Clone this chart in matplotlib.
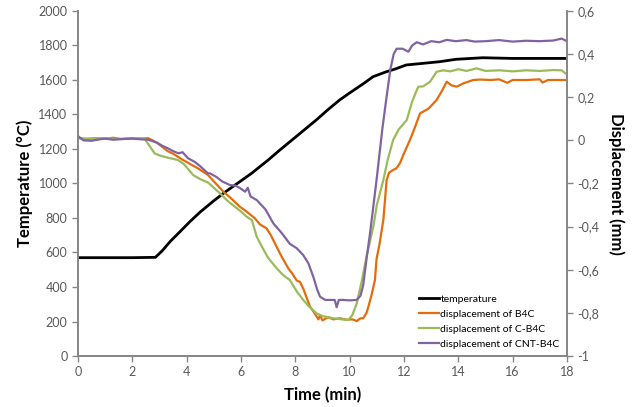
import matplotlib
matplotlib.use('Agg')
import matplotlib.pyplot as plt

plt.rcParams['font.family'] = ['Lato', 'DejaVu Sans']

# temperature (left axis, degC)
t_temp = [0, 1, 2, 2.85, 3.1, 3.4, 3.75, 4.12, 4.5, 5.0, 5.35, 5.96, 6.39, 7.0,
          7.43, 8.0, 8.77, 9.2, 9.63, 10.0, 10.5, 10.86, 11.3, 11.7, 12.08,
          12.6, 13.31, 13.92, 14.9, 16, 17, 18]
temp = [570, 570, 570, 572, 610, 665, 720, 779, 835, 900, 943, 1011, 1059, 1136,
        1194, 1268, 1368, 1428, 1484, 1525, 1578, 1619, 1645, 1665, 1687,
        1695, 1706, 1720, 1729, 1725, 1725, 1725]

# displacement of B4C (right axis, mm)
t_b4c = [0, 0.3, 0.6, 1.0, 1.3, 1.6, 2.0, 2.3, 2.58, 2.75, 2.94, 3.1, 3.3, 3.5,
         3.68, 3.85, 4.0, 4.2, 4.42, 4.6, 4.78, 5.0, 5.35, 5.6, 5.96, 6.2, 6.5,
         6.7, 6.94, 7.1, 7.31, 7.5, 7.74, 7.9, 8.05, 8.17, 8.3, 8.54, 8.7, 8.85,
         8.91, 9.0, 9.2, 9.4, 9.64, 9.9, 10.1, 10.26, 10.4, 10.5, 10.62, 10.69,
         10.8, 10.93, 10.99, 11.1, 11.24, 11.36, 11.45, 11.6, 11.72, 11.85, 12.0,
         12.22, 12.4, 12.59, 12.9, 13.2, 13.4, 13.57, 13.75, 13.94, 14.2, 14.55,
         14.8, 15.2, 15.5, 15.8, 16.0, 16.5, 17.0, 17.1, 17.3, 18.0]
d_b4c = [0.012, 0.005, 0.01, 0.008, 0.012, 0.006, 0.01, 0.008, 0.01, 0.0, -0.014,
         -0.03, -0.05, -0.062, -0.076, -0.09, -0.1, -0.115, -0.13, -0.145, -0.16,
         -0.19, -0.238, -0.265, -0.308, -0.33, -0.36, -0.39, -0.408, -0.44,
         -0.493, -0.54, -0.593, -0.62, -0.65, -0.656, -0.69, -0.771, -0.8, -0.83,
         -0.81, -0.835, -0.82, -0.83, -0.825, -0.832, -0.83, -0.838, -0.825,
         -0.825, -0.8, -0.771, -0.72, -0.648, -0.55, -0.48, -0.369, -0.184, -0.15,
         -0.137, -0.13, -0.106, -0.06, 0.002, 0.06, 0.125, 0.147, 0.187, 0.23,
         0.272, 0.255, 0.249, 0.265, 0.28, 0.282, 0.28, 0.283, 0.267, 0.28, 0.28,
         0.283, 0.268, 0.28, 0.28]

# displacement of C-B4C
t_cb4c = [0, 0.5, 1.0, 1.5, 2.0, 2.45, 2.6, 2.82, 3.0, 3.3, 3.68, 3.9, 4.24, 4.5,
          4.78, 5.0, 5.23, 5.5, 5.8, 6.0, 6.21, 6.4, 6.58, 6.8, 7.0, 7.31, 7.55,
          7.8, 8.05, 8.29, 8.5, 8.78, 9.0, 9.2, 9.4, 9.7, 9.95, 10.1, 10.26,
          10.45, 10.62, 10.87, 11.0, 11.24, 11.4, 11.6, 11.8, 12.1, 12.3, 12.47,
          12.53, 12.7, 12.96, 13.2, 13.45, 13.7, 14.0, 14.3, 14.67, 15.0, 15.5,
          16.0, 16.5, 17.0, 17.5, 17.8, 18.0]
d_cb4c = [0.01, 0.008, 0.01, 0.006, 0.01, 0.008, -0.02, -0.06, -0.07, -0.08,
          -0.091, -0.11, -0.161, -0.18, -0.195, -0.22, -0.246, -0.28, -0.31,
          -0.33, -0.354, -0.37, -0.447, -0.5, -0.545, -0.593, -0.625, -0.648,
          -0.7, -0.74, -0.77, -0.802, -0.815, -0.82, -0.825, -0.83, -0.833, -0.81,
          -0.756, -0.65, -0.54, -0.4, -0.3, -0.184, -0.09, 0.002, 0.05, 0.094,
          0.18, 0.233, 0.249, 0.25, 0.272, 0.318, 0.325, 0.32, 0.33, 0.322, 0.334,
          0.322, 0.325, 0.32, 0.325, 0.322, 0.326, 0.325, 0.305]

# displacement of CNT-B4C
t_cnt = [0, 0.2, 0.5, 0.8, 1.0, 1.3, 1.6, 2.0, 2.3, 2.58, 2.9, 3.1, 3.31, 3.5,
         3.7, 3.85, 4.05, 4.3, 4.5, 4.78, 4.86, 5.1, 5.3, 5.59, 5.8, 5.95, 6.15,
         6.25, 6.35, 6.58, 6.9, 7.19, 7.5, 7.8, 8.05, 8.29, 8.48, 8.66, 8.8, 8.91,
         9.1, 9.27, 9.45, 9.52, 9.6, 9.76, 10.0, 10.26, 10.4, 10.5, 10.62, 10.75,
         10.99, 11.2, 11.36, 11.5, 11.62, 11.73, 11.95, 12.16, 12.3, 12.47, 12.7,
         13.0, 13.3, 13.57, 13.9, 14.3, 14.6, 15.0, 15.5, 16.0, 16.5, 17.0, 17.5,
         17.8, 18.0]
d_cnt = [0.02, 0.0, -0.002, 0.005, 0.008, 0.003, 0.006, 0.008, 0.005, 0.003,
         -0.01, -0.025, -0.037, -0.05, -0.06, -0.055, -0.083, -0.1, -0.12, -0.153,
         -0.153, -0.17, -0.19, -0.207, -0.21, -0.22, -0.238, -0.22, -0.26, -0.277,
         -0.32, -0.385, -0.43, -0.48, -0.5, -0.532, -0.57, -0.632, -0.69, -0.725,
         -0.74, -0.74, -0.74, -0.774, -0.74, -0.74, -0.742, -0.74, -0.72, -0.67,
         -0.55, -0.431, -0.184, 0.05, 0.203, 0.33, 0.4, 0.425, 0.425, 0.411, 0.44,
         0.455, 0.445, 0.46, 0.455, 0.466, 0.46, 0.465, 0.458, 0.46, 0.465, 0.458,
         0.462, 0.46, 0.463, 0.472, 0.46]

grey = '#868686'
tick_col = '#595959'

fig = plt.figure(figsize=(6.43, 4.07), dpi=100)
ax = fig.add_axes([0.1213, 0.1253, 0.7605, 0.8477])
ax2 = ax.twinx()

l_t, = ax.plot(t_temp, temp, color='black', lw=2.0, label='temperature')
l_b, = ax2.plot(t_b4c, d_b4c, color='#E46C0A', lw=1.6, label='displacement of B4C')
l_c, = ax2.plot(t_cb4c, d_cb4c, color='#9BBB59', lw=1.6, label='displacement of C-B4C')
l_n, = ax2.plot(t_cnt, d_cnt, color='#8064A2', lw=1.6, label='displacement of CNT-B4C')

ax.set_xlim(0, 18)
ax.set_ylim(0, 2000)
ax2.set_ylim(-1, 0.6)
ax.set_xticks(range(0, 19, 2))
ax.set_yticks(range(0, 2001, 200))
ax2.set_yticks([-1, -0.8, -0.6, -0.4, -0.2, 0, 0.2, 0.4, 0.6])
ax2.set_yticklabels(['-1', '-0,8', '-0,6', '-0,4', '-0,2', '0', '0,2', '0,4', '0,6'])

for a in (ax, ax2):
    a.spines['top'].set_visible(False)
    for s in ('left', 'right', 'bottom'):
        a.spines[s].set_color(grey)
        a.spines[s].set_linewidth(1.2)
    a.tick_params(colors=grey, labelcolor=tick_col, labelsize=9, length=4, width=1)

ax.set_xlabel('Time (min)', fontsize=12, fontweight='bold', labelpad=6)
ax.set_ylabel('Temperature (°C)', fontsize=12, fontweight='bold', labelpad=4)
ax2.set_ylabel('Displacement (mm)', fontsize=12, fontweight='bold',
               rotation=270, labelpad=18)

ax2.legend(handles=[l_t, l_b, l_c, l_n], loc='lower right', frameon=False,
           fontsize=7.5, handlelength=2.0, handletextpad=0.1, labelspacing=0.55,
           borderaxespad=0.3)

fig.savefig('out.png', dpi=100)
